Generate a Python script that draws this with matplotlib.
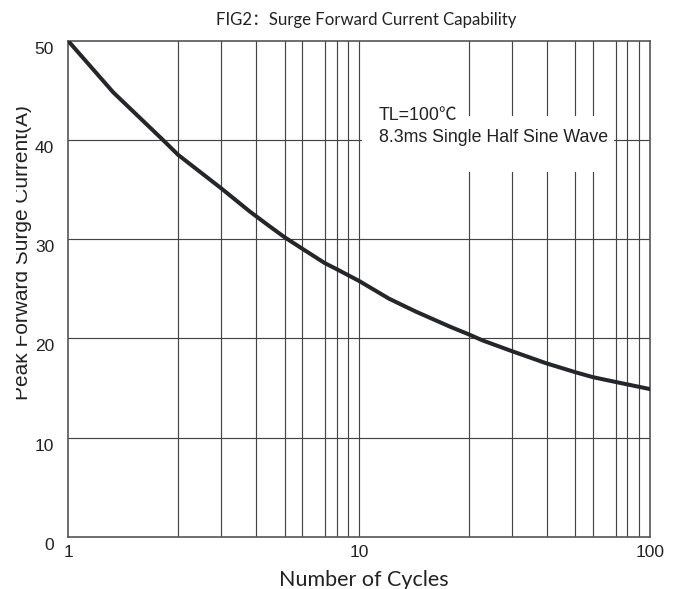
import matplotlib.pyplot as plt
import matplotlib.patches as patches
import matplotlib.transforms as mtransforms
import numpy as np

# curve: cycles vs peak forward surge current (A)
cycles = [1, 1.43, 2.12, 2.39, 3.37, 4.21, 4.93, 5.55, 6.34, 7.62, 8.36, 10,
          12.7, 15.7, 20.5, 23.9, 26.6, 33.7, 44.0, 55.4, 63.7, 76.7, 100]
current = [50, 44.8, 40.0, 38.5, 35.1, 32.8, 31.3, 30.2, 29.1, 27.6, 27.0, 25.8,
           24.0, 22.7, 21.2, 20.4, 19.8, 18.7, 17.5, 16.6, 16.1, 15.6, 14.9]

# vertical grid lines as drawn on the original sheet (not quite true log spacing)
grid_x = [2.39, 3.36, 4.43, 5.55, 6.37, 7.64, 8.40, 9.17, 10,
          23.9, 33.6, 44.3, 55.2, 63.7, 76.4, 83.4, 91.6]
grid_y = [10, 20, 30, 40]
y_ticks = [0, 10, 20, 30, 40, 50]
x_ticks = [1, 10, 100]
x_tick_labels = ['1', '10', '100']

fig = plt.figure(figsize=(6.74, 5.89), dpi=100)
ax = fig.add_axes([0.1009, 0.0883, 0.8635, 0.8426])

ax.set_xscale('log')
ax.set_xlim(1, 100)
ax.set_ylim(0, 50)

grid_kw = dict(color='#444444', lw=0.85, zorder=1)
for gx in grid_x:
    ax.axvline(gx, **grid_kw)
for gy in grid_y:
    ax.axhline(gy, **grid_kw)

# white box behind the note
ax.add_patch(patches.Rectangle((10.2, 36.8), 75 - 10.2, 5.6,
                               facecolor='white', edgecolor='none', zorder=2))
note_font = ['Liberation Sans', 'Noto Sans CJK SC']
ax.text(11.7, 42.0, 'TL=100℃', fontsize=12.8, family=note_font,
        va='baseline', ha='left', color='#222222', zorder=3)
ax.text(11.7, 39.8, '8.3ms Single Half Sine Wave', fontsize=12.8,
        family=note_font, va='baseline', ha='left', color='#222222', zorder=3)

ax.plot(cycles, current, color='#23272c', lw=2.9, solid_capstyle='round',
        solid_joinstyle='round', zorder=4)

ax.set_xticks(x_ticks)
ax.set_xticklabels(x_tick_labels)
ax.xaxis.set_minor_locator(plt.NullLocator())
ax.set_yticks(y_ticks)
ax.tick_params(length=0, labelsize=12.5, labelcolor='#222222',
               labelfontfamily='Liberation Sans')
ax.tick_params(axis='y', pad=10)
ax.tick_params(axis='x', pad=6)

# y labels sit a little below their grid lines in the original
offset = mtransforms.ScaledTranslation(0, -7 / 100, fig.dpi_scale_trans)
for lab in ax.get_yticklabels():
    lab.set_transform(lab.get_transform() + offset)

for sp in ax.spines.values():
    sp.set_color('#555555')
    sp.set_linewidth(1.2)

fig.text(0.543, 0.966, 'FIG2：Surge Forward Current Capability',
         family=['Lato', 'Noto Sans CJK SC'], fontsize=12.1,
         ha='center', va='center', color='#222222')
fig.text(364 / 674, (589 - 586) / 589, 'Number of Cycles', family=['Lato'],
         fontsize=15.5, ha='center', va='baseline', color='#222222')
ylab = fig.text(32 / 674, 1 - 253 / 589, 'Peak Forward Surge Current(A)',
                family='Liberation Sans', fontsize=15, rotation=90,
                ha='right', va='center', color='#222222')
# the original scan cuts off the tops of the capitals in this label
ylab.set_clip_box(mtransforms.TransformedBbox(
    mtransforms.Bbox.from_extents(16 / 674, 0, 1, 1), fig.transFigure))

fig.savefig('out.png', dpi=100)
